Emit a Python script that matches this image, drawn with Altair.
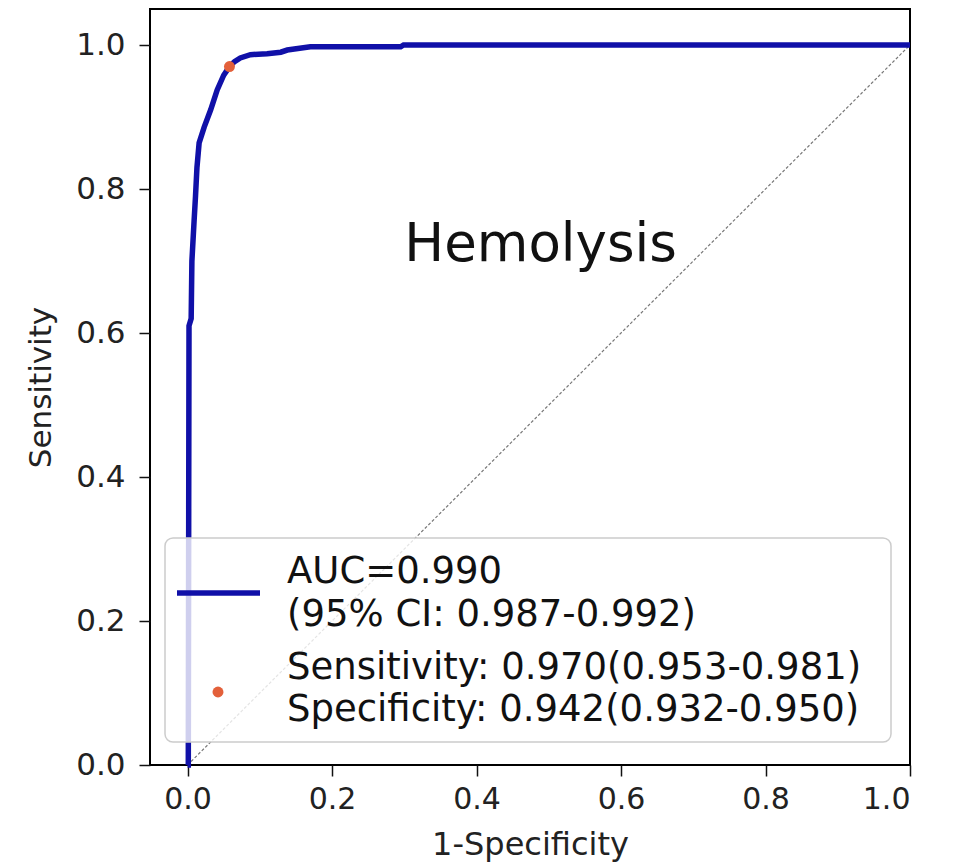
import altair as alt
import pandas as pd

# ROC curve
fpr = [0.0, 0.001, 0.002, 0.005, 0.006, 0.009, 0.011, 0.013, 0.016, 0.023,
       0.032, 0.041, 0.050, 0.058, 0.065, 0.073, 0.087, 0.110, 0.129, 0.138,
       0.170, 0.295, 0.299, 1.0]
tpr = [0.0, 0.0, 0.610, 0.620, 0.700, 0.755, 0.790, 0.830, 0.864, 0.886,
       0.910, 0.9375, 0.958, 0.970, 0.977, 0.982, 0.9865, 0.988, 0.990, 0.993,
       0.9975, 0.9975, 1.0, 1.0]

diag_x = [0.0, 1.0]
diag_y = [0.0, 1.0]

cut_x = [0.058]
cut_y = [0.970]

ticks = [0.0, 0.2, 0.4, 0.6, 0.8, 1.0]

title_text = "Hemolysis"
title_x = [0.3]
title_y = [0.7]

legend_lines = [
    "AUC=0.990",
    "(95% CI: 0.987-0.992)",
    "Sensitivity: 0.970(0.953-0.981)",
    "Specificity: 0.942(0.932-0.950)",
]

FONT = "DejaVu Sans"
BLUE = "#1010a8"
ORANGE = "#e3603a"

curve_df = pd.DataFrame({"x": fpr, "y": tpr, "o": list(range(len(fpr)))})
diag_df = pd.DataFrame({"x": diag_x, "y": diag_y})
cut_df = pd.DataFrame({"x": cut_x, "y": cut_y})
title_df = pd.DataFrame({"x": title_x, "y": title_y, "t": [title_text]})
one = pd.DataFrame({"a": [0]})

xscale = alt.Scale(domain=[-0.052, 1.0], nice=False, zero=False)
yscale = alt.Scale(domain=[0.0, 1.05], nice=False, zero=False)

xaxis = alt.Axis(values=ticks, format=".1f", title="1-Specificity", grid=False,
                 domain=False, tickSize=11, tickWidth=1.5, tickColor="#111",
                 labelFont=FONT, labelFontSize=30, labelColor="#222", labelPadding=8,
                 titleFont=FONT, titleFontSize=32, titleFontWeight="normal",
                 titleColor="#222", titlePadding=15)
yaxis = alt.Axis(values=ticks, format=".1f", title="Sensitivity", grid=False,
                 domain=False, tickSize=11, tickWidth=1.5, tickColor="#111",
                 labelFont=FONT, labelFontSize=31, labelColor="#222", labelPadding=14,
                 titleFont=FONT, titleFontSize=31, titleFontWeight="normal",
                 titleColor="#222", titlePadding=18)

diag = alt.Chart(diag_df).mark_line(color="#777777", strokeWidth=1.2, strokeDash=[3, 2]).encode(
    x=alt.X("x:Q", scale=xscale, axis=xaxis),
    y=alt.Y("y:Q", scale=yscale, axis=yaxis),
)

curve = alt.Chart(curve_df).mark_line(color=BLUE, strokeWidth=5.5, interpolate="linear").encode(
    x=alt.X("x:Q", scale=xscale),
    y=alt.Y("y:Q", scale=yscale),
    order="o:Q",
)

dot = alt.Chart(cut_df).mark_circle(color=ORANGE, size=120, opacity=1).encode(
    x=alt.X("x:Q", scale=xscale),
    y=alt.Y("y:Q", scale=yscale),
)

title = alt.Chart(title_df).mark_text(font=FONT, fontSize=53, color="#111",
                                      align="left", baseline="alphabetic").encode(
    x=alt.X("x:Q", scale=xscale),
    y=alt.Y("y:Q", scale=yscale),
    text="t:N",
)

legend_box = alt.Chart(one).mark_rect(fill="white", fillOpacity=0.8, stroke="#cccccc",
                                      strokeWidth=1.5, cornerRadius=8).encode(
    x=alt.value(15), x2=alt.value(741), y=alt.value(529), y2=alt.value(733)
)

legend_line = alt.Chart(one).mark_rule(color=BLUE, strokeWidth=5.5).encode(
    x=alt.value(27), x2=alt.value(110), y=alt.value(584)
)

legend_dot = alt.Chart(one).mark_circle(color=ORANGE, size=120, opacity=1).encode(
    x=alt.value(68), y=alt.value(683)
)

baselines = [574, 617, 670, 712]
legend_texts = [
    alt.Chart(one).mark_text(font=FONT, fontSize=37, color="#111", align="left",
                             baseline="alphabetic", text=t).encode(
        x=alt.value(137), y=alt.value(b)
    )
    for t, b in zip(legend_lines, baselines)
]

chart = alt.layer(diag, curve, dot, title, legend_box, legend_line, legend_dot,
                  *legend_texts).properties(
    width=760, height=756,
    padding={"left": 142, "top": 1, "right": 40, "bottom": 100},
    autosize=alt.AutoSizeParams(type="none"),
    background="white",
).configure_view(stroke="black", strokeWidth=2)

chart.save("out.html", embed_options={"renderer": "svg", "actions": False})
